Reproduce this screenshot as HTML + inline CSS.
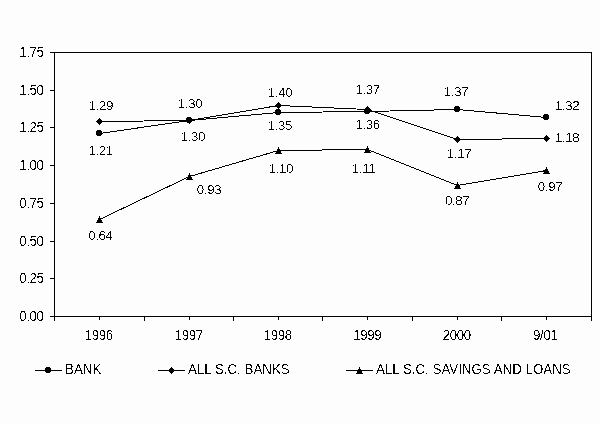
<!DOCTYPE html>
<html><head><meta charset="utf-8"><style>
html,body{margin:0;padding:0;background:#fdfdfd;width:600px;height:425px;overflow:hidden}
svg{display:block} line,polyline,rect,polygon,circle,path{shape-rendering:crispEdges}
text{font-family:"Liberation Sans",sans-serif;font-size:13.33px;fill:#000}
</style></head><body>
<svg width="600" height="425" viewBox="0 0 600 425">
<defs><filter id="th" x="0" y="0" width="600" height="425" filterUnits="userSpaceOnUse"><feComponentTransfer><feFuncA type="discrete" tableValues="0 0 0 0 0 1 1 1 1"/></feComponentTransfer></filter></defs>
<rect x="0" y="0" width="600" height="425" fill="#fdfdfd"/>
<rect x="54.5" y="52.5" width="537" height="264" fill="none" stroke="#000" stroke-width="1"/>
<line x1="50" y1="52.5" x2="55" y2="52.5" stroke="#000"/>
<line x1="50" y1="90.5" x2="55" y2="90.5" stroke="#000"/>
<line x1="50" y1="127.5" x2="55" y2="127.5" stroke="#000"/>
<line x1="50" y1="165.5" x2="55" y2="165.5" stroke="#000"/>
<line x1="50" y1="203.5" x2="55" y2="203.5" stroke="#000"/>
<line x1="50" y1="241.5" x2="55" y2="241.5" stroke="#000"/>
<line x1="50" y1="278.5" x2="55" y2="278.5" stroke="#000"/>
<line x1="50" y1="316.5" x2="55" y2="316.5" stroke="#000"/>
<line x1="54.5" y1="316" x2="54.5" y2="321" stroke="#000"/>
<line x1="99.5" y1="316" x2="99.5" y2="320" stroke="#000"/>
<line x1="144.5" y1="316" x2="144.5" y2="321" stroke="#000"/>
<line x1="189.5" y1="316" x2="189.5" y2="320" stroke="#000"/>
<line x1="233.5" y1="316" x2="233.5" y2="321" stroke="#000"/>
<line x1="278.5" y1="316" x2="278.5" y2="320" stroke="#000"/>
<line x1="322.5" y1="316" x2="322.5" y2="321" stroke="#000"/>
<line x1="367.5" y1="316" x2="367.5" y2="320" stroke="#000"/>
<line x1="412.5" y1="316" x2="412.5" y2="321" stroke="#000"/>
<line x1="457.5" y1="316" x2="457.5" y2="320" stroke="#000"/>
<line x1="501.5" y1="316" x2="501.5" y2="321" stroke="#000"/>
<line x1="546.5" y1="316" x2="546.5" y2="320" stroke="#000"/>
<line x1="591.5" y1="316" x2="591.5" y2="321" stroke="#000"/>
<polyline points="99.5,133.5 189.5,120.5 278.5,112.5 367.5,111.5 457.5,109.5 546.5,117.5" fill="none" stroke="#000" stroke-width="1"/>
<polyline points="99.5,121.5 189.5,120.5 278.5,105.5 367.5,109.5 457.5,139.5 546.5,138.5" fill="none" stroke="#000" stroke-width="1"/>
<polyline points="99.5,219.5 189.5,176.5 278.5,150.5 367.5,149.5 457.5,185.5 546.5,170.5" fill="none" stroke="#000" stroke-width="1"/>
<path d="M97,130h4v1h-4zM96,131h6v1h-6zM96,132h6v1h-6zM96,133h6v1h-6zM96,134h6v1h-6zM97,135h4v1h-4z" fill="#000"/>
<path d="M99,118h1v1h-1zM98,119h3v1h-3zM97,120h5v1h-5zM96,121h7v1h-7zM97,122h5v1h-5zM98,123h3v1h-3zM99,124h1v1h-1z" fill="#000"/>
<path d="M99,216h1v1h-1zM99,217h1v1h-1zM98,218h3v1h-3zM98,219h3v1h-3zM97,220h5v1h-5zM97,221h5v1h-5zM96,222h7v1h-7z" fill="#000"/>
<path d="M187,117h4v1h-4zM186,118h6v1h-6zM186,119h6v1h-6zM186,120h6v1h-6zM186,121h6v1h-6zM187,122h4v1h-4z" fill="#000"/>
<path d="M189,117h1v1h-1zM188,118h3v1h-3zM187,119h5v1h-5zM186,120h7v1h-7zM187,121h5v1h-5zM188,122h3v1h-3zM189,123h1v1h-1z" fill="#000"/>
<path d="M189,173h1v1h-1zM189,174h1v1h-1zM188,175h3v1h-3zM188,176h3v1h-3zM187,177h5v1h-5zM187,178h5v1h-5zM186,179h7v1h-7z" fill="#000"/>
<path d="M276,109h4v1h-4zM275,110h6v1h-6zM275,111h6v1h-6zM275,112h6v1h-6zM275,113h6v1h-6zM276,114h4v1h-4z" fill="#000"/>
<path d="M278,102h1v1h-1zM277,103h3v1h-3zM276,104h5v1h-5zM275,105h7v1h-7zM276,106h5v1h-5zM277,107h3v1h-3zM278,108h1v1h-1z" fill="#000"/>
<path d="M278,147h1v1h-1zM278,148h1v1h-1zM277,149h3v1h-3zM277,150h3v1h-3zM276,151h5v1h-5zM276,152h5v1h-5zM275,153h7v1h-7z" fill="#000"/>
<path d="M365,108h4v1h-4zM364,109h6v1h-6zM364,110h6v1h-6zM364,111h6v1h-6zM364,112h6v1h-6zM365,113h4v1h-4z" fill="#000"/>
<path d="M367,106h1v1h-1zM366,107h3v1h-3zM365,108h5v1h-5zM364,109h7v1h-7zM365,110h5v1h-5zM366,111h3v1h-3zM367,112h1v1h-1z" fill="#000"/>
<path d="M367,146h1v1h-1zM367,147h1v1h-1zM366,148h3v1h-3zM366,149h3v1h-3zM365,150h5v1h-5zM365,151h5v1h-5zM364,152h7v1h-7z" fill="#000"/>
<path d="M455,106h4v1h-4zM454,107h6v1h-6zM454,108h6v1h-6zM454,109h6v1h-6zM454,110h6v1h-6zM455,111h4v1h-4z" fill="#000"/>
<path d="M457,136h1v1h-1zM456,137h3v1h-3zM455,138h5v1h-5zM454,139h7v1h-7zM455,140h5v1h-5zM456,141h3v1h-3zM457,142h1v1h-1z" fill="#000"/>
<path d="M457,182h1v1h-1zM457,183h1v1h-1zM456,184h3v1h-3zM456,185h3v1h-3zM455,186h5v1h-5zM455,187h5v1h-5zM454,188h7v1h-7z" fill="#000"/>
<path d="M544,114h4v1h-4zM543,115h6v1h-6zM543,116h6v1h-6zM543,117h6v1h-6zM543,118h6v1h-6zM544,119h4v1h-4z" fill="#000"/>
<path d="M546,135h1v1h-1zM545,136h3v1h-3zM544,137h5v1h-5zM543,138h7v1h-7zM544,139h5v1h-5zM545,140h3v1h-3zM546,141h1v1h-1z" fill="#000"/>
<path d="M546,167h1v1h-1zM546,168h1v1h-1zM545,169h3v1h-3zM545,170h3v1h-3zM544,171h5v1h-5zM544,172h5v1h-5zM543,173h7v1h-7z" fill="#000"/>
<line x1="35" y1="370.5" x2="62" y2="370.5" stroke="#000"/>
<path d="M46,367h4v1h-4zM45,368h6v1h-6zM45,369h6v1h-6zM45,370h6v1h-6zM45,371h6v1h-6zM46,372h4v1h-4z" fill="#000"/>
<line x1="158" y1="370.5" x2="185" y2="370.5" stroke="#000"/>
<path d="M171,367h1v1h-1zM170,368h3v1h-3zM169,369h5v1h-5zM168,370h7v1h-7zM169,371h5v1h-5zM170,372h3v1h-3zM171,373h1v1h-1z" fill="#000"/>
<line x1="346" y1="370.5" x2="373" y2="370.5" stroke="#000"/>
<path d="M359,367h1v1h-1zM359,368h1v1h-1zM358,369h3v1h-3zM358,370h3v1h-3zM357,371h5v1h-5zM357,372h5v1h-5zM356,373h7v1h-7z" fill="#000"/>
<g filter="url(#th)">
<text transform="translate(43.5,57) scale(1,1.08)" text-anchor="end" letter-spacing="-0.4">1.75</text>
<text transform="translate(43.5,95) scale(1,1.08)" text-anchor="end" letter-spacing="-0.4">1.50</text>
<text transform="translate(43.5,132) scale(1,1.08)" text-anchor="end" letter-spacing="-0.4">1.25</text>
<text transform="translate(43.5,170) scale(1,1.08)" text-anchor="end" letter-spacing="-0.4">1.00</text>
<text transform="translate(43.5,208) scale(1,1.08)" text-anchor="end" letter-spacing="-0.4">0.75</text>
<text transform="translate(43.5,246) scale(1,1.08)" text-anchor="end" letter-spacing="-0.4">0.50</text>
<text transform="translate(43.5,283) scale(1,1.08)" text-anchor="end" letter-spacing="-0.4">0.25</text>
<text transform="translate(43.5,321) scale(1,1.08)" text-anchor="end" letter-spacing="-0.4">0.00</text>
<text transform="translate(98.75,340) scale(1,1.08)" text-anchor="middle" letter-spacing="-0.4">1996</text>
<text transform="translate(188.75,340) scale(1,1.08)" text-anchor="middle" letter-spacing="-0.4">1997</text>
<text transform="translate(277.75,340) scale(1,1.08)" text-anchor="middle" letter-spacing="-0.4">1998</text>
<text transform="translate(367.25,340) scale(1,1.08)" text-anchor="middle" letter-spacing="-0.4">1999</text>
<text transform="translate(456.75,340) scale(1,1.08)" text-anchor="middle" letter-spacing="-0.4">2000</text>
<text transform="translate(545.25,340) scale(1,1.08)" text-anchor="middle" letter-spacing="-0.4">9/01</text>
<text transform="translate(100.9,110)" text-anchor="middle" letter-spacing="-0.4">1.29</text>
<text transform="translate(100.7,155)" text-anchor="middle" letter-spacing="-0.4">1.21</text>
<text transform="translate(100.3,240)" text-anchor="middle" letter-spacing="-0.4">0.64</text>
<text transform="translate(190,108)" text-anchor="middle" letter-spacing="-0.4">1.30</text>
<text transform="translate(192.9,141)" text-anchor="middle" letter-spacing="-0.4">1.30</text>
<text transform="translate(209,194)" text-anchor="middle" letter-spacing="-0.4">0.93</text>
<text transform="translate(280,97)" text-anchor="middle" letter-spacing="-0.4">1.40</text>
<text transform="translate(279.8,130)" text-anchor="middle" letter-spacing="-0.4">1.35</text>
<text transform="translate(280.8,173)" text-anchor="middle" letter-spacing="-0.4">1.10</text>
<text transform="translate(367.7,94)" text-anchor="middle" letter-spacing="-0.4">1.37</text>
<text transform="translate(367.7,129)" text-anchor="middle" letter-spacing="-0.4">1.36</text>
<text transform="translate(363.5,173)" text-anchor="middle" letter-spacing="-0.4">1.11</text>
<text transform="translate(456,96)" text-anchor="middle" letter-spacing="-0.4">1.37</text>
<text transform="translate(459,158)" text-anchor="middle" letter-spacing="-0.4">1.17</text>
<text transform="translate(457.2,205)" text-anchor="middle" letter-spacing="-0.4">0.87</text>
<text transform="translate(555,110)" text-anchor="start" letter-spacing="-0.4">1.32</text>
<text transform="translate(555,142)" text-anchor="start" letter-spacing="-0.4">1.18</text>
<text transform="translate(550,191)" text-anchor="middle" letter-spacing="-0.4">0.97</text>
<text transform="translate(65,374) scale(1,1.08)" text-anchor="start">BANK</text>
<text transform="translate(188,374) scale(1,1.08)" text-anchor="start">ALL S.C. BANKS</text>
<text transform="translate(376,374) scale(1,1.08)" text-anchor="start">ALL S.C. SAVINGS AND LOANS</text>
</g>
</svg>
</body></html>
